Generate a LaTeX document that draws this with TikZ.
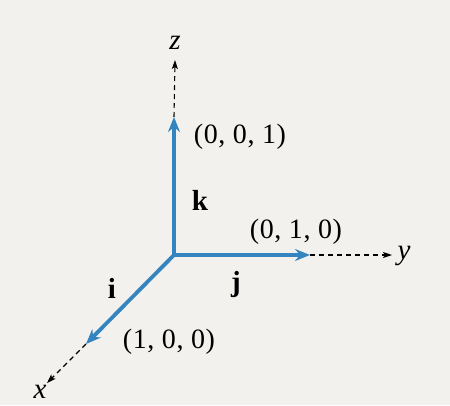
\documentclass[tikz,border=0pt]{standalone}
\usepackage{fontspec}
\setmainfont{Liberation Serif}
\usetikzlibrary{arrows.meta}
\definecolor{paper}{RGB}{243,241,238}
\definecolor{vecblue}{RGB}{52,132,192}
\tikzset{
  vec/.style={draw=vecblue,line width=3.8pt,-{Stealth[length=15pt,width=12pt,inset=5pt]}},
  axis/.style={draw=black,line width=1.1pt,dash pattern=on 5pt off 4pt,-{Stealth[length=9pt,width=6pt,inset=2pt]}},
  lbl/.style={inner sep=0pt,font=\fontsize{29}{34}\selectfont},
  coord/.style={inner sep=0pt,font=\fontsize{28}{32}\selectfont\addfontfeatures{LetterSpace=2}},
}
\begin{document}
\begin{tikzpicture}[x=1pt,y=-1pt]
\fill[paper] (0,0) rectangle (450,405);
\useasboundingbox (0,0) rectangle (450,405);
\coordinate (O) at (174,255);
\coordinate (K) at (174,117);
\coordinate (J) at (310,255);
\coordinate (I) at (86,344);
\coordinate (Z) at (175,60);
\coordinate (Y) at (392,255);
\coordinate (X) at (47,383);
\draw[axis] (K) -- (Z);
\draw[axis] (J) -- (Y);
\draw[axis] (I) -- (X);
\draw[vec] (O) -- (K);
\draw[vec] (O) -- (J);
\draw[vec] (O) -- (I);
\node[lbl] (zl) at (175,43) {\textit{z}};
\node[lbl] (yl) at (404,256) {\textit{y}};
\node[lbl] (xl) at (40,392) {\textit{x}};
\node[lbl] (kl) at (200,200) {\textbf{k}};
\node[lbl] (jl) at (236,285) {\textbf{j}};
\node[lbl] (il) at (112,288) {\textbf{i}};
\node[coord] (p001) at (240,137) {(0, 0, 1)};
\node[coord] (p010) at (296,232) {(0, 1, 0)};
\node[coord] (p100) at (169,342) {(1, 0, 0)};
\end{tikzpicture}
\end{document}
